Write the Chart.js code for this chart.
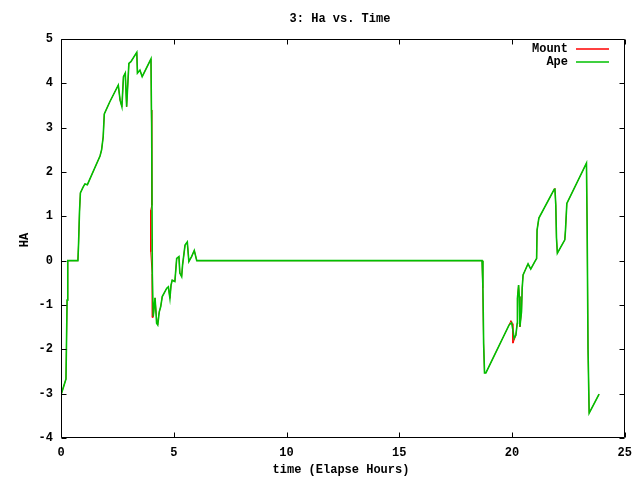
<!DOCTYPE html>
<html>
<head>
<meta charset="utf-8">
<script src="https://cdn.jsdelivr.net/npm/chart.js@4/dist/chart.umd.min.js"></script>
<style>
html,body{margin:0;padding:0;background:#fff;}
canvas{display:block;}
</style>
</head>
<body>
<canvas id="c" width="640" height="480"></canvas>
<script>
// ---- data (hours, HA) ----
const chartTitle = "3: Ha vs. Time";
const xAxisTitle = "time (Elapse Hours)";
const yAxisTitle = "HA";
const xTicks = [0, 5, 10, 15, 20, 25];
const yTicks = [-4, -3, -2, -1, 0, 1, 2, 3, 4, 5];

const apeTime = [0, 0.22, 0.24, 0.27, 0.29, 0.31, 0.75, 0.78, 0.82, 0.86,
  0.98, 1.06, 1.17, 1.21, 1.73, 1.80, 1.87, 1.92, 2.17, 2.54,
  2.62, 2.70, 2.77, 2.85, 2.91, 3.01, 3.10, 3.36, 3.39, 3.50,
  3.60, 3.99, 4.01, 4.02, 4.05, 4.09, 4.17, 4.24, 4.29, 4.36,
  4.42, 4.49, 4.69, 4.76, 4.83, 4.88, 4.93, 5.05, 5.13, 5.23,
  5.27, 5.35, 5.39, 5.50, 5.60, 5.67, 5.79, 5.91, 6.02, 18.67,
  18.71, 18.74, 18.78, 18.84, 19.87, 19.98, 20.05, 20.09, 20.17, 20.23,
  20.24, 20.29, 20.32, 20.35, 20.42, 20.45, 20.49, 20.71, 20.83, 21.01,
  21.09, 21.11, 21.19, 21.87, 21.90, 21.94, 21.97, 22.01, 22.34, 22.37,
  22.43, 23.30, 23.33, 23.37, 23.42, 23.86];
const apeHA = [-3.03, -2.67, -1.99, -0.89, -0.66, 0, 0, 0.40, 1.10, 1.53,
  1.66, 1.73, 1.71, 1.76, 2.36, 2.50, 2.79, 3.31, 3.59, 3.96,
  3.62, 3.47, 4.15, 4.23, 3.47, 4.45, 4.49, 4.70, 4.23, 4.30,
  4.15, 4.55, 3.40, 3.11, -0.32, -1.26, -0.84, -1.41, -1.45, -1.15,
  -1.04, -0.81, -0.62, -0.59, -0.85, -0.55, -0.44, -0.47, 0.05, 0.09,
  -0.28, -0.36, -0.10, 0.35, 0.42, -0.02, 0.09, 0.23, 0, 0,
  -0.62, -1.86, -2.53, -2.53, -1.45, -1.40, -1.60, -1.75, -1.68, -1.41,
  -0.85, -0.55, -0.81, -1.49, -1.15, -0.62, -0.32, -0.07, -0.19, -0.02,
  0.05, 0.69, 0.96, 1.61, 1.63, 1.26, 0.52, 0.17, 0.47, 0.69,
  1.29, 2.20, 0.78, -2.01, -3.44, -3.01];

const mountTime = [0, 0.22, 0.24, 0.27, 0.29, 0.31, 0.75, 0.78, 0.82, 0.86,
  0.98, 1.06, 1.17, 1.21, 1.73, 1.80, 1.87, 1.92, 2.17, 2.54,
  2.62, 2.70, 2.77, 2.85, 2.91, 3.01, 3.10, 3.36, 3.39, 3.50,
  3.60, 3.99, 4.01, 4.02, 4.035, 3.98, 3.98, 4.04, 4.05, 4.09, 4.17, 4.24, 4.29, 4.33, 4.36,
  4.42, 4.49, 4.69, 4.76, 4.83, 4.88, 4.93, 5.05, 5.13, 5.23,
  5.27, 5.35, 5.39, 5.50, 5.60, 5.67, 5.79, 5.91, 6.02, 18.67,
  18.70, 18.74, 18.78, 18.84, 19.87, 19.95, 20.02, 20.04, 20.09, 20.17, 20.23,
  20.24, 20.29, 20.32, 20.35, 20.42, 20.45, 20.49, 20.71, 20.83, 21.01,
  21.09, 21.11, 21.19, 21.87, 21.90, 21.94, 21.97, 22.01, 22.34, 22.37,
  22.43, 23.30, 23.33, 23.37, 23.42, 23.86];
const mountHA = [-3.03, -2.67, -1.99, -0.89, -0.66, 0, 0, 0.40, 1.10, 1.53,
  1.66, 1.73, 1.71, 1.76, 2.36, 2.50, 2.79, 3.31, 3.59, 3.96,
  3.62, 3.47, 4.15, 4.23, 3.47, 4.45, 4.49, 4.70, 4.23, 4.30,
  4.15, 4.55, 3.40, 3.11, 1.25, 1.14, 0.20, -0.30, -1.28, -1.28, -0.84, -1.30, -1.45, -1.22, -1.15,
  -1.04, -0.81, -0.62, -0.59, -0.85, -0.55, -0.44, -0.47, 0.05, 0.09,
  -0.28, -0.36, -0.10, 0.35, 0.42, -0.02, 0.09, 0.23, 0, 0,
  -0.62, -1.86, -2.53, -2.53, -1.45, -1.35, -1.42, -1.86, -1.80, -1.68, -1.41,
  -0.85, -0.55, -0.81, -1.49, -1.15, -0.62, -0.32, -0.07, -0.19, -0.02,
  0.05, 0.69, 0.96, 1.61, 1.63, 1.26, 0.52, 0.17, 0.47, 0.69,
  1.29, 2.20, 0.78, -2.01, -3.44, -3.01];

const FONT = 'bold 12px "Liberation Mono", "DejaVu Sans Mono", monospace';

const gnuplotFrame = {
  id: 'gnuplotFrame',
  afterDraw(chart) {
    const ctx = chart.ctx;
    const a = chart.chartArea;
    const xs = chart.scales.x, ys = chart.scales.y;
    const L = Math.round(a.left) + 0.5, R = Math.round(a.right) - 0.5;
    const T = Math.round(a.top) + 0.5, B = Math.round(a.bottom) - 0.5;
    ctx.save();
    ctx.strokeStyle = '#000';
    ctx.lineWidth = 1;
    ctx.beginPath();
    ctx.rect(L, T, R - L, B - T);
    yTicks.forEach(v => {
      const py = Math.round(ys.getPixelForValue(v)) + 0.5;
      ctx.moveTo(L, py); ctx.lineTo(L + 5, py);
      ctx.moveTo(R, py); ctx.lineTo(R - 5, py);
    });
    xTicks.forEach(v => {
      const px = Math.round(xs.getPixelForValue(v)) + 0.5;
      ctx.moveTo(px, B); ctx.lineTo(px, B - 5);
      ctx.moveTo(px, T); ctx.lineTo(px, T + 5);
    });
    ctx.stroke();

    ctx.fillStyle = '#000';
    ctx.font = FONT;
    ctx.textBaseline = 'middle';
    ctx.textAlign = 'center';
    ctx.fillText(chartTitle, 340, 19);
    ctx.fillText(xAxisTitle, 341, 470);
    ctx.save();
    ctx.translate(25, 240);
    ctx.rotate(-Math.PI / 2);
    ctx.fillText(yAxisTitle, 0, 0);
    ctx.restore();

    ctx.textAlign = 'right';
    chart.data.datasets.forEach((ds, i) => {
      const y = 49 + 13 * i;
      ctx.fillStyle = '#000';
      ctx.fillText(ds.label, 568, y);
      ctx.strokeStyle = ds.borderColor;
      ctx.lineWidth = 1.5;
      ctx.beginPath();
      ctx.moveTo(576, Math.round(y));
      ctx.lineTo(609, Math.round(y));
      ctx.stroke();
    });
    ctx.restore();
  }
};

const tickFont = { family: '"Liberation Mono", "DejaVu Sans Mono", monospace', size: 12, weight: 'bold' };

new Chart(document.getElementById('c'), {
  type: 'line',
  data: {
    datasets: [
      { label: 'Mount', data: mountTime.map((t, i) => ({ x: t, y: mountHA[i] })),
        borderColor: '#ff0000', borderWidth: 1, pointRadius: 0, fill: false, tension: 0, order: 1 },
      { label: 'Ape', data: apeTime.map((t, i) => ({ x: t, y: apeHA[i] })),
        borderColor: '#00c000', borderWidth: 1.6, pointRadius: 0, fill: false, tension: 0, order: 0 }
    ]
  },
  options: {
    responsive: false,
    animation: false,
    devicePixelRatio: 1,
    layout: { padding: { top: 39, right: 15, left: 0, bottom: 0 } },
    plugins: { legend: { display: false }, tooltip: { enabled: false }, title: { display: false } },
    scales: {
      x: {
        type: 'linear', min: 0, max: 25,
        afterBuildTicks: s => { s.ticks = xTicks.map(v => ({ value: v })); },
        ticks: { font: tickFont, color: '#000', padding: 8, maxRotation: 0, autoSkip: false },
        grid: { display: false, drawTicks: false },
        border: { display: false },
        afterFit: s => { s.height = 42; }
      },
      y: {
        type: 'linear', min: -4, max: 5,
        afterBuildTicks: s => { s.ticks = yTicks.map(v => ({ value: v })); },
        ticks: { font: tickFont, color: '#000', padding: 8, autoSkip: false },
        grid: { display: false, drawTicks: false },
        border: { display: false },
        afterFit: s => { s.width = 61; }
      }
    }
  },
  plugins: [gnuplotFrame]
});
</script>
</body>
</html>
